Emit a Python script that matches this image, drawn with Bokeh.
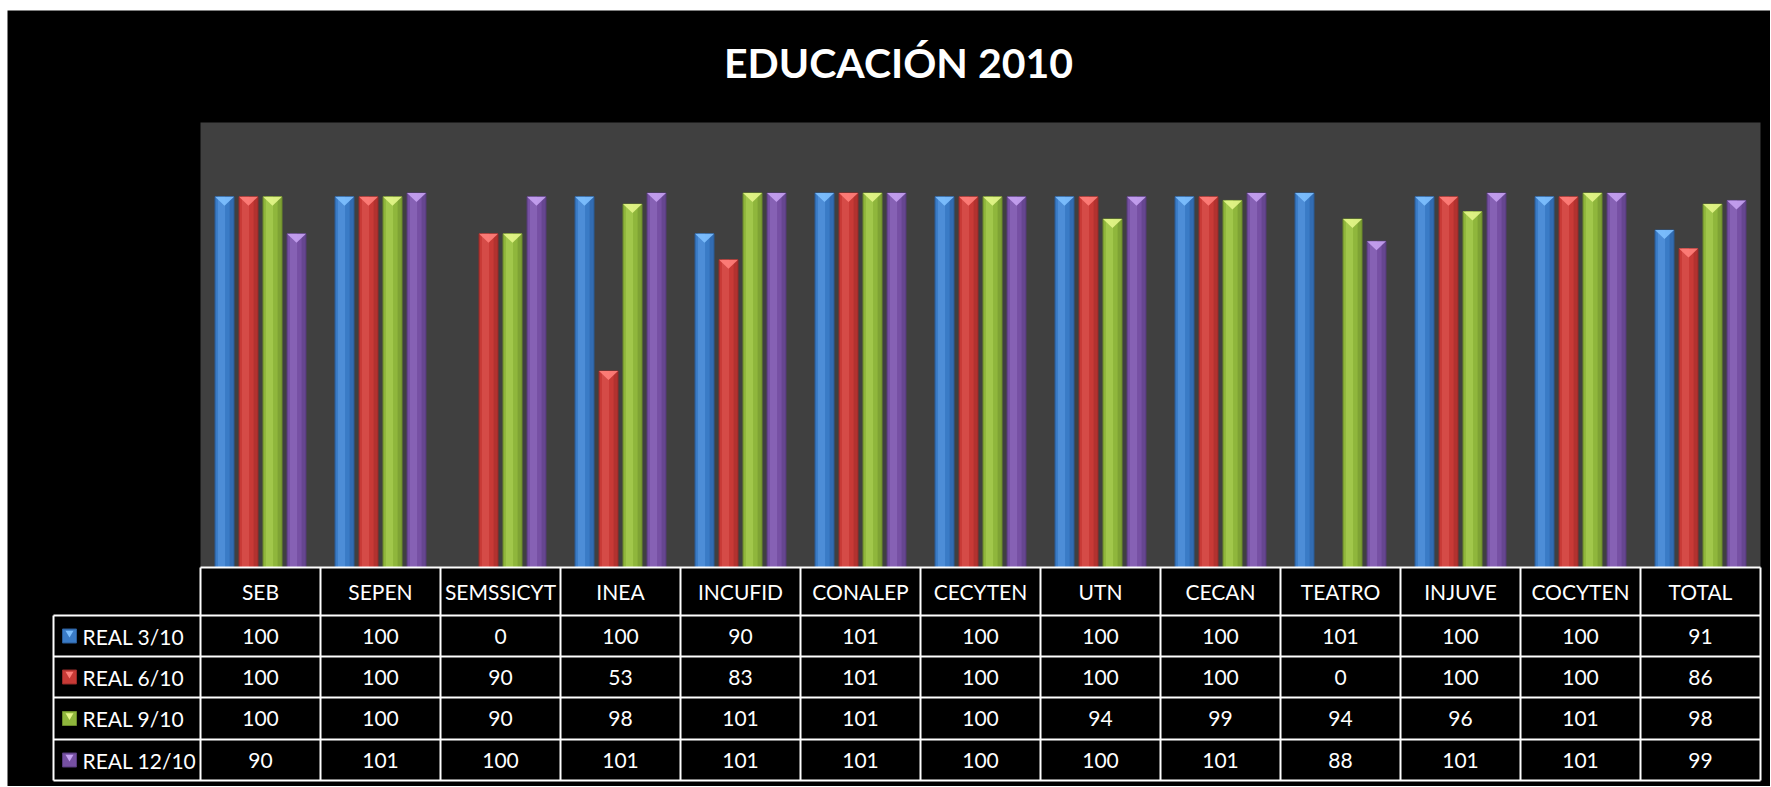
from bokeh.plotting import figure
from bokeh.models import Range1d, Label
from bokeh.core.properties import value
from bokeh.embed import file_html
from bokeh.resources import INLINE

# ---------------- data ----------------
title_text = "EDUCACIÓN 2010"
categories = ["SEB", "SEPEN", "SEMSSICYT", "INEA", "INCUFID", "CONALEP", "CECYTEN",
              "UTN", "CECAN", "TEATRO", "INJUVE", "COCYTEN", "TOTAL"]
series_names = ["REAL 3/10", "REAL 6/10", "REAL 9/10", "REAL 12/10"]
real_3_10 = [100, 100, 0, 100, 90, 101, 100, 100, 100, 101, 100, 100, 91]
real_6_10 = [100, 100, 90, 53, 83, 101, 100, 100, 100, 0, 100, 100, 86]
real_9_10 = [100, 100, 90, 98, 101, 101, 100, 94, 99, 94, 96, 101, 98]
real_12_10 = [90, 101, 100, 101, 101, 101, 100, 100, 101, 88, 101, 101, 99]
series_values = [real_3_10, real_6_10, real_9_10, real_12_10]

# ---------------- styles ----------------
base_colors = ["#3A7BC6", "#C83A36", "#8FB63C", "#7650A3"]
dark_colors = ["#2A5C98", "#962A28", "#6A8A2A", "#553A7A"]
light_colors = ["#5C9CE6", "#E05A55", "#B0D657", "#9470C2"]
cap_colors = ["#7EC0FF", "#FF7F7A", "#E4F68A", "#C6A2F2"]
offsets = [-0.3, -0.1, 0.1, 0.3]
bar_w = 0.158
FONT = "Lato"

W, H = 1763, 776
PX = 3.708                      # pixels per value unit
UX = 120.0                      # pixels per category
base_px = 557                   # canvas y of the value-0 baseline
left_px = 193                   # canvas x of first category's left edge
y_top = 120

p = figure(width=W, height=H, output_backend="svg", toolbar_location=None,
           x_range=Range1d(-left_px / UX, (W - left_px) / UX),
           y_range=Range1d(-(H - base_px) / PX, base_px / PX),
           min_border_left=0, min_border_right=0, min_border_top=0,
           min_border_bottom=0, tools="")
p.margin = (10, 0, 0, 7)
p.axis.visible = False
p.grid.visible = False
p.outline_line_color = None
p.background_fill_color = "black"
p.border_fill_color = "black"

n = len(categories)
p.add_layout(Label(x=(891 - left_px) / UX, y=(base_px - 52) / PX, text=title_text,
                   text_color="white", text_font=FONT, text_font_style="bold",
                   text_font_size="41px", text_align="center", text_baseline="middle"))

# plot area background
p.quad(left=[0], right=[n], bottom=[0], top=[y_top], fill_color="#404040", line_color=None)

# bars
for j, vals in enumerate(series_values):
    xs = [i + 0.5 + offsets[j] for i in range(n)]
    p.vbar(x=xs, top=vals, bottom=0, width=bar_w, fill_color=base_colors[j],
           line_color=dark_colors[j], line_width=1)
    p.vbar(x=[x - 0.025 for x in xs], top=vals, bottom=0, width=0.06,
           fill_color=light_colors[j], fill_alpha=0.55, line_color=None)
    p.vbar(x=[x + 0.06 for x in xs], top=vals, bottom=0, width=0.035,
           fill_color=dark_colors[j], fill_alpha=0.45, line_color=None)
    cxs, cys = [], []
    for x, v in zip(xs, vals):
        if v > 0:
            cxs.append([x - bar_w / 2, x + bar_w / 2, x])
            cys.append([v, v, v - 9 / PX])
    p.patches(xs=cxs, ys=cys, fill_color=cap_colors[j], fill_alpha=0.9, line_color=None)

# ---------------- data table ----------------
row_px = [0, 48, 89, 130, 172, 213]
row_y = [-r / PX for r in row_px]
x_left = -147 / UX

# horizontal lines
p.segment(x0=[0], y0=[row_y[0]], x1=[n], y1=[row_y[0]], line_color="white", line_width=2)
p.segment(x0=[x_left] * 5, y0=row_y[1:], x1=[n] * 5, y1=row_y[1:],
          line_color="white", line_width=2)
# vertical lines
p.segment(x0=list(range(n + 1)), y0=[row_y[0]] * (n + 1), x1=list(range(n + 1)),
          y1=[row_y[-1]] * (n + 1), line_color="white", line_width=2)
p.segment(x0=[x_left], y0=[row_y[1]], x1=[x_left], y1=[row_y[-1]],
          line_color="white", line_width=2)

centers = [i + 0.5 for i in range(n)]
p.text(x=centers, y=[(row_y[0] + row_y[1]) / 2] * n, text=categories,
       text_color="white", text_font=value(FONT), text_font_size="21px",
       text_align="center", text_baseline="middle")
for j, vals in enumerate(series_values):
    yc = (row_y[j + 1] + row_y[j + 2]) / 2
    p.text(x=centers, y=[yc] * n, text=[str(v) for v in vals],
           text_color="white", text_font=value(FONT), text_font_size="21px",
           text_align="center", text_baseline="middle")
    # legend key
    p.scatter(x=[-131 / UX], y=[yc], marker="square", size=14, fill_color=base_colors[j],
              line_color=dark_colors[j])
    p.scatter(x=[-131 / UX], y=[yc + 3 / PX], marker="inverted_triangle", size=8,
              fill_color=cap_colors[j], line_color=None)
    p.text(x=[-118 / UX], y=[yc], text=[series_names[j]], text_color="white",
           text_font=value(FONT), text_font_size="21px", text_align="left",
           text_baseline="middle")

open("out.html", "w").write(file_html(p, INLINE))
